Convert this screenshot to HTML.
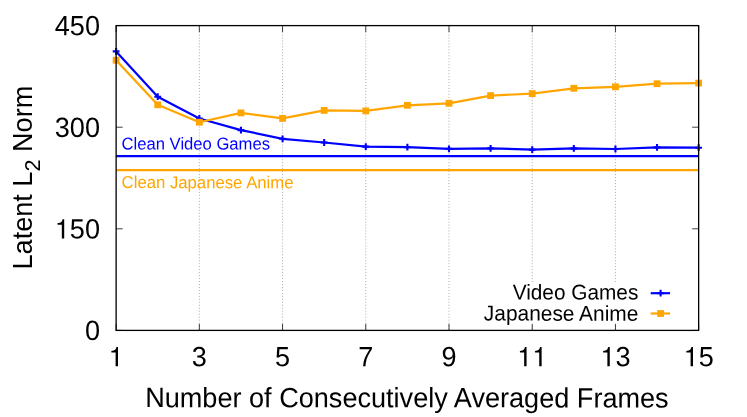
<!DOCTYPE html>
<html><head><meta charset="utf-8"><title>chart</title>
<style>html,body{margin:0;padding:0;background:#fff;width:747px;height:417px;overflow:hidden}</style></head>
<body>
<svg width="747" height="417" viewBox="0 0 747 417" style="position:absolute;left:0;top:0;will-change:transform">
<rect width="747" height="417" fill="#fff"/>
<line x1="199.34" y1="25.6" x2="199.34" y2="330.4" stroke="#9c9c9c" stroke-width="0.85" stroke-dasharray="1 1.97"/>
<line x1="282.56" y1="25.6" x2="282.56" y2="330.4" stroke="#9c9c9c" stroke-width="0.85" stroke-dasharray="1 1.97"/>
<line x1="365.78" y1="25.6" x2="365.78" y2="330.4" stroke="#9c9c9c" stroke-width="0.85" stroke-dasharray="1 1.97"/>
<line x1="448.99" y1="25.6" x2="448.99" y2="330.4" stroke="#9c9c9c" stroke-width="0.85" stroke-dasharray="1 1.97"/>
<line x1="532.21" y1="25.6" x2="532.21" y2="330.4" stroke="#9c9c9c" stroke-width="0.85" stroke-dasharray="1 1.97"/>
<line x1="615.43" y1="25.6" x2="615.43" y2="330.4" stroke="#9c9c9c" stroke-width="0.85" stroke-dasharray="1 1.97"/>
<rect x="480" y="283.2" width="196" height="40.6" fill="#fff"/>
<line x1="116.12" y1="330.4" x2="116.12" y2="323.9" stroke="#000" stroke-width="0.75"/>
<line x1="116.12" y1="25.6" x2="116.12" y2="32.1" stroke="#000" stroke-width="0.75"/>
<line x1="199.34" y1="330.4" x2="199.34" y2="323.9" stroke="#000" stroke-width="0.75"/>
<line x1="199.34" y1="25.6" x2="199.34" y2="32.1" stroke="#000" stroke-width="0.75"/>
<line x1="282.56" y1="330.4" x2="282.56" y2="323.9" stroke="#000" stroke-width="0.75"/>
<line x1="282.56" y1="25.6" x2="282.56" y2="32.1" stroke="#000" stroke-width="0.75"/>
<line x1="365.78" y1="330.4" x2="365.78" y2="323.9" stroke="#000" stroke-width="0.75"/>
<line x1="365.78" y1="25.6" x2="365.78" y2="32.1" stroke="#000" stroke-width="0.75"/>
<line x1="448.99" y1="330.4" x2="448.99" y2="323.9" stroke="#000" stroke-width="0.75"/>
<line x1="448.99" y1="25.6" x2="448.99" y2="32.1" stroke="#000" stroke-width="0.75"/>
<line x1="532.21" y1="330.4" x2="532.21" y2="323.9" stroke="#000" stroke-width="0.75"/>
<line x1="532.21" y1="25.6" x2="532.21" y2="32.1" stroke="#000" stroke-width="0.75"/>
<line x1="615.43" y1="330.4" x2="615.43" y2="323.9" stroke="#000" stroke-width="0.75"/>
<line x1="615.43" y1="25.6" x2="615.43" y2="32.1" stroke="#000" stroke-width="0.75"/>
<line x1="698.65" y1="330.4" x2="698.65" y2="323.9" stroke="#000" stroke-width="0.75"/>
<line x1="698.65" y1="25.6" x2="698.65" y2="32.1" stroke="#000" stroke-width="0.75"/>
<line x1="116.12" y1="330.40" x2="122.62" y2="330.40" stroke="#000" stroke-width="0.75"/>
<line x1="698.65" y1="330.40" x2="692.15" y2="330.40" stroke="#000" stroke-width="0.75"/>
<line x1="116.12" y1="228.80" x2="122.62" y2="228.80" stroke="#000" stroke-width="0.75"/>
<line x1="698.65" y1="228.80" x2="692.15" y2="228.80" stroke="#000" stroke-width="0.75"/>
<line x1="116.12" y1="127.20" x2="122.62" y2="127.20" stroke="#000" stroke-width="0.75"/>
<line x1="698.65" y1="127.20" x2="692.15" y2="127.20" stroke="#000" stroke-width="0.75"/>
<line x1="116.12" y1="25.60" x2="122.62" y2="25.60" stroke="#000" stroke-width="0.75"/>
<line x1="698.65" y1="25.60" x2="692.15" y2="25.60" stroke="#000" stroke-width="0.75"/>
<polyline points="116.12,51.40 157.73,96.70 199.34,118.50 240.95,130.10 282.56,138.80 324.17,142.50 365.78,146.60 407.38,147.20 448.99,148.90 490.60,148.30 532.21,149.60 573.82,148.40 615.43,149.00 657.04,147.40 698.65,147.70" fill="none" stroke="#0000ff" stroke-width="2.2" stroke-linejoin="round"/>
<path d="M112.72 51.40H119.52M116.12 48.00V54.80" stroke="#0000ff" stroke-width="2.1" fill="none"/>
<path d="M154.33 96.70H161.13M157.73 93.30V100.10" stroke="#0000ff" stroke-width="2.1" fill="none"/>
<path d="M195.94 118.50H202.74M199.34 115.10V121.90" stroke="#0000ff" stroke-width="2.1" fill="none"/>
<path d="M237.55 130.10H244.35M240.95 126.70V133.50" stroke="#0000ff" stroke-width="2.1" fill="none"/>
<path d="M279.16 138.80H285.96M282.56 135.40V142.20" stroke="#0000ff" stroke-width="2.1" fill="none"/>
<path d="M320.77 142.50H327.57M324.17 139.10V145.90" stroke="#0000ff" stroke-width="2.1" fill="none"/>
<path d="M362.38 146.60H369.18M365.78 143.20V150.00" stroke="#0000ff" stroke-width="2.1" fill="none"/>
<path d="M403.99 147.20H410.78M407.38 143.80V150.60" stroke="#0000ff" stroke-width="2.1" fill="none"/>
<path d="M445.59 148.90H452.39M448.99 145.50V152.30" stroke="#0000ff" stroke-width="2.1" fill="none"/>
<path d="M487.20 148.30H494.00M490.60 144.90V151.70" stroke="#0000ff" stroke-width="2.1" fill="none"/>
<path d="M528.81 149.60H535.61M532.21 146.20V153.00" stroke="#0000ff" stroke-width="2.1" fill="none"/>
<path d="M570.42 148.40H577.22M573.82 145.00V151.80" stroke="#0000ff" stroke-width="2.1" fill="none"/>
<path d="M612.03 149.00H618.83M615.43 145.60V152.40" stroke="#0000ff" stroke-width="2.1" fill="none"/>
<path d="M653.64 147.40H660.44M657.04 144.00V150.80" stroke="#0000ff" stroke-width="2.1" fill="none"/>
<path d="M695.25 147.70H702.05M698.65 144.30V151.10" stroke="#0000ff" stroke-width="2.1" fill="none"/>
<polyline points="116.12,60.20 157.73,104.80 199.34,122.20 240.95,112.90 282.56,118.40 324.17,110.40 365.78,110.90 407.38,105.30 448.99,103.30 490.60,95.60 532.21,93.60 573.82,88.30 615.43,86.80 657.04,83.70 698.65,83.10" fill="none" stroke="#ffa500" stroke-width="2.2" stroke-linejoin="round"/>
<rect x="112.72" y="56.80" width="6.8" height="6.8" fill="#ffa500"/>
<rect x="154.33" y="101.40" width="6.8" height="6.8" fill="#ffa500"/>
<rect x="195.94" y="118.80" width="6.8" height="6.8" fill="#ffa500"/>
<rect x="237.55" y="109.50" width="6.8" height="6.8" fill="#ffa500"/>
<rect x="279.16" y="115.00" width="6.8" height="6.8" fill="#ffa500"/>
<rect x="320.77" y="107.00" width="6.8" height="6.8" fill="#ffa500"/>
<rect x="362.38" y="107.50" width="6.8" height="6.8" fill="#ffa500"/>
<rect x="403.99" y="101.90" width="6.8" height="6.8" fill="#ffa500"/>
<rect x="445.59" y="99.90" width="6.8" height="6.8" fill="#ffa500"/>
<rect x="487.20" y="92.20" width="6.8" height="6.8" fill="#ffa500"/>
<rect x="528.81" y="90.20" width="6.8" height="6.8" fill="#ffa500"/>
<rect x="570.42" y="84.90" width="6.8" height="6.8" fill="#ffa500"/>
<rect x="612.03" y="83.40" width="6.8" height="6.8" fill="#ffa500"/>
<rect x="653.64" y="80.30" width="6.8" height="6.8" fill="#ffa500"/>
<rect x="695.25" y="79.70" width="6.8" height="6.8" fill="#ffa500"/>
<line x1="116.12" y1="156.1" x2="698.65" y2="156.1" stroke="#0000ff" stroke-width="2.2"/>
<line x1="116.12" y1="170.15" x2="698.65" y2="170.15" stroke="#ffa500" stroke-width="2.2"/>
<rect x="116.12" y="25.6" width="582.53" height="304.79999999999995" fill="none" stroke="#000" stroke-width="1.3"/>
<line x1="650.7" y1="293.2" x2="670.1" y2="293.2" stroke="#0000ff" stroke-width="2.2"/>
<path d="M657.2 293.2H664M660.6 289.8V296.6" stroke="#0000ff" stroke-width="2.1" fill="none"/>
<line x1="650.7" y1="313.5" x2="670.1" y2="313.5" stroke="#ffa500" stroke-width="2.2"/>
<rect x="657.2" y="310.1" width="6.8" height="6.8" fill="#ffa500"/>
<text transform="translate(84.93 340.10) rotate(0.04) scale(1 1.03)" font-family="Liberation Sans, sans-serif" font-size="27.1">0</text>
<path d="M61.82 238.50V224.81H57.56V223.11C61.27 222.65 61.79 222.24 62.63 219.29H64.20V238.50Z" fill="#000"/><text transform="translate(69.86 238.50) rotate(0.04) scale(1 1.03)" font-family="Liberation Sans, sans-serif" font-size="27.1">50</text>
<text transform="translate(54.80 136.90) rotate(0.04) scale(1 1.03)" font-family="Liberation Sans, sans-serif" font-size="27.1">300</text>
<text transform="translate(54.80 35.30) rotate(0.04) scale(1 1.03)" font-family="Liberation Sans, sans-serif" font-size="27.1">450</text>
<path d="M115.61 366.30V352.61H111.35V350.91C115.06 350.45 115.58 350.04 116.42 347.09H117.99V366.30Z" fill="#000"/>
<text transform="translate(191.80 366.30) rotate(0.04) scale(1 1.03)" font-family="Liberation Sans, sans-serif" font-size="27.1">3</text>
<text transform="translate(275.02 366.30) rotate(0.04) scale(1 1.03)" font-family="Liberation Sans, sans-serif" font-size="27.1">5</text>
<text transform="translate(358.24 366.30) rotate(0.04) scale(1 1.03)" font-family="Liberation Sans, sans-serif" font-size="27.1">7</text>
<text transform="translate(441.46 366.30) rotate(0.04) scale(1 1.03)" font-family="Liberation Sans, sans-serif" font-size="27.1">9</text>
<path d="M524.16 366.30V352.61H519.91V350.91C523.62 350.45 524.14 350.04 524.98 347.09H526.55V366.30Z" fill="#000"/><path d="M539.23 366.30V352.61H534.98V350.91C538.69 350.45 539.20 350.04 540.04 347.09H541.62V366.30Z" fill="#000"/>
<path d="M607.38 366.30V352.61H603.13V350.91C606.84 350.45 607.36 350.04 608.20 347.09H609.77V366.30Z" fill="#000"/><text transform="translate(615.43 366.30) rotate(0.04) scale(1 1.03)" font-family="Liberation Sans, sans-serif" font-size="27.1">3</text>
<path d="M690.60 366.30V352.61H686.35V350.91C690.06 350.45 690.57 350.04 691.41 347.09H692.99V366.30Z" fill="#000"/><text transform="translate(698.65 366.30) rotate(0.04) scale(1 1.03)" font-family="Liberation Sans, sans-serif" font-size="27.1">5</text>
<text transform="translate(406.90 407.30) rotate(0.04) scale(1 1.03)" font-family="Liberation Sans, sans-serif" font-size="27.1" text-anchor="middle">Number of Consecutively Averaged Frames</text>
<text transform="translate(31.8 269.5) rotate(-90) scale(1 1.03)" font-family="Liberation Sans, sans-serif" font-size="27.1">Latent L<tspan font-size="21.7" dy="7.8">2</tspan><tspan dy="-7.8"> Norm</tspan></text>
<text transform="translate(121.60 149.50) rotate(0.04) scale(1 1.03)" font-family="Liberation Sans, sans-serif" font-size="16.62" fill="#0000ff">Clean Video Games</text>
<text transform="translate(121.60 188.10) rotate(0.04) scale(1 1.03)" font-family="Liberation Sans, sans-serif" font-size="16.73" fill="#ffa500">Clean Japanese Anime</text>
<text transform="translate(638.30 299.60) rotate(0.04) scale(1 1.03)" font-family="Liberation Sans, sans-serif" font-size="20.8" text-anchor="end">Video Games</text>
<text transform="translate(638.30 320.70) rotate(0.04) scale(1 1.03)" font-family="Liberation Sans, sans-serif" font-size="20.9" text-anchor="end">Japanese Anime</text>
</svg>
</body></html>
